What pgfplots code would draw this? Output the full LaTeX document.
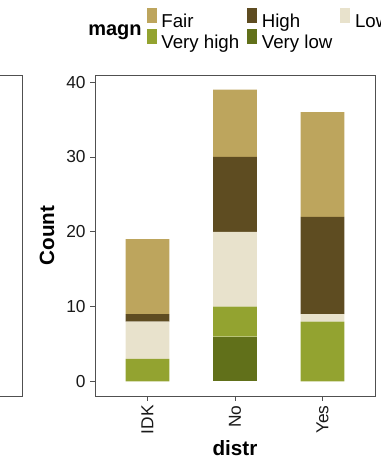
\documentclass[border=0pt]{standalone}
\usepackage{fontspec}
\setmainfont{Liberation Sans}
\usepackage{pgfplots}
\pgfplotsset{compat=1.18}
\definecolor{cFair}{HTML}{BDA55D}
\definecolor{cHigh}{HTML}{5E4C21}
\definecolor{cLow}{HTML}{E8E2CC}
\definecolor{cVhigh}{HTML}{93A330}
\definecolor{cVlow}{HTML}{61701A}
\definecolor{axgray}{HTML}{505050}
\begin{document}
\begin{tikzpicture}
\path[use as bounding box, clip] (0,0) rectangle (285pt,348.75pt);
% partial left panel
\begin{axis}[
  at={(-100pt,51.75pt)}, anchor=south west,
  scale only axis, width=116.5pt, height=240.75pt,
  xmin=0, xmax=1, ymin=0, ymax=1,
  ticks=none, axis line style={axgray, line width=0.6pt},
]
\end{axis}
% main panel
\begin{axis}[
  at={(71.25pt,51.75pt)}, anchor=south west,
  scale only axis, width=210pt, height=240.75pt,
  clip=false,
  ybar stacked, bar width=0.5,
  xmin=0.4, xmax=3.6, ymin=-1.95, ymax=40.95,
  xtick={1,2,3}, xticklabels={IDK,No,Yes},
  ytick={0,10,20,30,40},
  tick align=outside, major tick length=3.5pt,
  tick style={axgray, line width=0.6pt},
  xtick pos=bottom, ytick pos=left,
  axis line style={axgray, line width=0.6pt},
  /pgf/number format/assume math mode=true,
  ticklabel style={font=\fontsize{13}{15}\selectfont, text=black!90},
  xticklabel style={rotate=90, anchor=east},
  xlabel={\textbf{distr}}, ylabel={\textbf{Count}},
  label style={font=\fontsize{15.5}{18}\selectfont},
  xlabel style={at={(axis description cs:0.5,-0.162)}, anchor=center},
  ylabel style={at={(axis description cs:-0.171,0.5)}, anchor=center},
  reverse legend,
  legend columns=3,
  legend image code/.code={\fill[#1,draw=none] (0pt,-0.3pt) rectangle (7.5pt,11pt);},
  legend style={at={(rel axis cs:0.1846,1.2087)}, anchor=north west,
    draw=none, fill=none, inner sep=0pt, outer sep=0pt,
    font=\fontsize{14}{16}\selectfont,
    nodes={inner sep=0pt, text height=11pt, text depth=3.5pt},
    row sep=-2.3pt,
    /tikz/every odd column/.append style={column sep=3.5pt},
    /tikz/every even column/.append style={column sep=6pt}},
  legend cell align=left,
]
\addplot[fill=cVlow, draw=none] coordinates {(1,0) (2,6) (3,0)};
\addplot[fill=cVhigh, draw=none] coordinates {(1,3) (2,4) (3,8)};
\addplot[fill=cLow, draw=none] coordinates {(1,5) (2,10) (3,1)};
\addplot[fill=cHigh, draw=none] coordinates {(1,1) (2,10) (3,13)};
\addplot[fill=cFair, draw=none] coordinates {(1,10) (2,9) (3,14)};
\legend{Very low, Very high, Low, High, Fair}
\node[font=\fontsize{15}{17}\selectfont\bfseries, anchor=center] at (rel axis cs:0.0714,1.133) {magn};
\end{axis}
\end{tikzpicture}
\end{document}
